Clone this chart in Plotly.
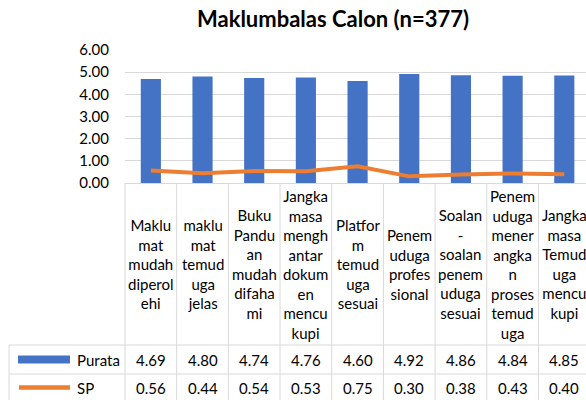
import plotly.graph_objects as go

# ---- data ----
categories = [
    "Maklumat mudah diperolehi",
    "maklumat temuduga jelas",
    "Buku Panduan mudah difahami",
    "Jangka masa menghantar dokumen mencukupi",
    "Platform temuduga sesuai",
    "Penemuduga profesional",
    "Soalan - soalan penemuduga sesuai",
    "Penemuduga menerangkan proses temuduga",
    "Jangka masa Temuduga mencukupi",
]
tick_labels = [
    ["Maklu", "mat", "mudah", "diperol", "ehi"],
    ["maklu", "mat", "temud", "uga", "jelas"],
    ["Buku", "Pandu", "an", "mudah", "difaha", "mi"],
    ["Jangka", "masa", "mengh", "antar", "dokum", "en", "mencu", "kupi"],
    ["Platfor", "m", "temud", "uga", "sesuai"],
    ["Penem", "uduga", "profes", "sional"],
    ["Soalan", "-", "soalan", "penem", "uduga", "sesuai"],
    ["Penem", "uduga", "mener", "angka", "n", "proses", "temud", "uga"],
    ["Jangka", "masa", "Temud", "uga", "mencu", "kupi"],
]
purata = [4.69, 4.80, 4.74, 4.76, 4.60, 4.92, 4.86, 4.84, 4.85]
sp = [0.56, 0.44, 0.54, 0.53, 0.75, 0.30, 0.38, 0.43, 0.40]
series_names = ["Purata", "SP"]
y_ticks = [0, 1, 2, 3, 4, 5, 6]

# ---- layout geometry ----
W, H = 586, 400
ML, MR, MT, MB = 125, 0, 50, 217
plot_w = W - ML - MR
plot_h = H - MT - MB
x_range = [-0.5, 8.42]
BLUE = "#4472C4"
ORANGE = "#ED7D31"
GRID = "#D9D9D9"
FONT = "Lato"
TXT = "#000000"

idx = list(range(len(categories)))


def px_x(px):
    return (px - ML) / plot_w


def px_y(py):
    return (H - MB - py) / plot_h


def cat_x(v):
    return (v - x_range[0]) / (x_range[1] - x_range[0])


fig = go.Figure()
fig.add_trace(go.Bar(x=idx, y=purata, name=series_names[0], marker=dict(color=BLUE, line=dict(width=0)),
                     width=0.39, hoverinfo="skip"))
fig.add_trace(go.Scatter(x=idx, y=sp, name=series_names[1], mode="lines",
                         line=dict(color=ORANGE, width=4), hoverinfo="skip"))

shapes = []
annotations = []

# table geometry (pixels)
header_bottom = 345
row1_bottom = 374
row2_bottom = 403
table_left = 9
axis_y = H - MB

line = dict(color=GRID, width=1)
# horizontal lines
for yy in (header_bottom, row1_bottom):
    shapes.append(dict(type="line", xref="paper", yref="paper", x0=px_x(table_left), x1=1.0,
                       y0=px_y(yy), y1=px_y(yy), line=line, layer="above"))
# left border of legend column
shapes.append(dict(type="line", xref="paper", yref="paper", x0=px_x(table_left), x1=px_x(table_left),
                   y0=px_y(header_bottom), y1=px_y(row2_bottom), line=line))
# vertical category boundaries
for i in range(len(categories) + 1):
    xb = cat_x(i - 0.5)
    if xb > 1.0:
        continue
    shapes.append(dict(type="line", xref="paper", yref="paper", x0=xb, x1=xb,
                       y0=px_y(axis_y), y1=px_y(row2_bottom), line=line))

# legend keys in table
shapes.append(dict(type="rect", xref="paper", yref="paper", x0=px_x(18), x1=px_x(70),
                   y0=px_y(363.5), y1=px_y(355.5), fillcolor=BLUE, line=dict(width=0)))
shapes.append(dict(type="line", xref="paper", yref="paper", x0=px_x(19), x1=px_x(70),
                   y0=px_y(387.5), y1=px_y(387.5), line=dict(color=ORANGE, width=4.5)))

row_centers = [(header_bottom + row1_bottom) / 2 + 0.5, (row1_bottom + row2_bottom) / 2 - 1]
for name, ry in zip(series_names, row_centers):
    annotations.append(dict(xref="paper", yref="paper", x=px_x(75), y=px_y(ry), text=name,
                            showarrow=False, xanchor="left", yanchor="middle",
                            font=dict(family=FONT, size=15, color=TXT)))

# category labels & values
header_mid = (axis_y + header_bottom) / 2
for i in idx:
    annotations.append(dict(xref="paper", yref="paper", x=cat_x(i), y=px_y(header_mid),
                            text="<br>".join(tick_labels[i]), showarrow=False,
                            xanchor="center", yanchor="middle", align="center",
                            font=dict(family=FONT, size=15, color=TXT)))
    for vals, ry in zip((purata, sp), row_centers):
        annotations.append(dict(xref="paper", yref="paper", x=cat_x(i), y=px_y(ry),
                                text=f"{vals[i]:.2f}", showarrow=False,
                                xanchor="center", yanchor="middle",
                                font=dict(family=FONT, size=15, color=TXT)))

fig.update_layout(
    width=W, height=H,
    margin=dict(l=ML, r=MR, t=MT, b=MB, pad=0),
    paper_bgcolor="white", plot_bgcolor="white",
    showlegend=False,
    title=dict(text="<b>Maklumbalas Calon (n=377)</b>", x=333 / W, xanchor="center",
               y=1 - 19 / H, yanchor="middle", font=dict(family=FONT, size=22, color=TXT)),
    xaxis=dict(range=x_range, showticklabels=False, showgrid=False, zeroline=False,
               showline=True, linecolor=GRID, linewidth=1, ticks="", fixedrange=True),
    yaxis=dict(range=[0, 6], tickvals=y_ticks, tickformat=".2f", showgrid=True, gridcolor=GRID,
               gridwidth=1, zeroline=False, showline=False, ticks="outside", ticklen=12,
               tickcolor="rgba(0,0,0,0)", tickfont=dict(family=FONT, size=15, color=TXT)),
    shapes=shapes, annotations=annotations,
)

fig.write_html(
    "out.html",
    config={"displayModeBar": False},
    post_script="document.body.style.margin='0';document.body.style.overflow='hidden';",
)
